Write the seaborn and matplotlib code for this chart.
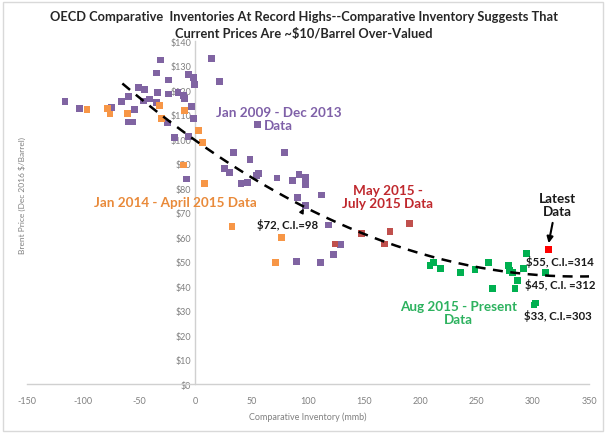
import numpy as np
import pandas as pd
import matplotlib
matplotlib.use("Agg")
import matplotlib.pyplot as plt
import seaborn as sns
from matplotlib.patches import Rectangle

# values
purple_x = [-116, -103, -74.5, -66, -59.5, -54.5, -60, -56, -51, -45, -46.5, -41, -35, -34,
            -34.5, -31, -24, -24, -25, -15.5, -11, -10, -6.5, -1.5, -1, -3.5, -1.5, -19, -6.5,
            -8, 14, 21.5, 55.5, 33.5, 48.5, 79, 26, 30, 54.5, 56, 40.5, 46, 72.5, 86, 92,
            97.5, 97.5, 90.5, 112, 97.5, 118, 122.5, 89.5, 111.5, 129]
purple_y = [115.3, 112.4, 113, 115.5, 117.4, 112, 107, 107, 121.2, 120.2, 115.6, 116.4, 115, 119,
            127, 132.3, 124.2, 118.5, 106.6, 119.1, 117.8, 116.7, 126.3, 125.3, 122.4, 113.4, 108.5,
            100.8, 101.2, 83.8, 133, 123.6, 106, 94.5, 91.8, 94.5, 88, 86.4, 85.2, 86, 81.8, 82.5,
            84.2, 83.3, 85.6, 84.5, 81.4, 76.3, 77.3, 72.9, 65, 53, 50, 49.6, 57]

orange_x = [-96.5, -78.5, -76, -60.5, -32, -30, -10, -11, 2.5, 6.5, 8, 32.5, 76.5, 71.5]
orange_y = [112, 112.4, 110.3, 110.6, 113.7, 108.6, 111.7, 89.5, 103.5, 98.8, 81.8, 64.4, 60, 49.6]

red_x = [124, 147.5, 168, 173, 190]
red_y = [57.3, 61.4, 57.3, 62.5, 65.5]

green_x = [208.5, 211.5, 217.5, 235.5, 248.5, 260.5, 264, 278, 279.5, 282, 284, 286.5, 291.5,
           294.5, 311.5, 301, 302.5]
green_y = [48.5, 49.6, 47.4, 45.5, 46.8, 49.8, 39.2, 48.5, 46.4, 45.5, 39.2, 42.3, 47.4,
           53.5, 45.5, 32.4, 33.2]

latest_x = [314]
latest_y = [55]

# dashed trend line (2nd order polynomial, Excel style)
trend_coef = [0.00048, -0.3264, 99.5]
trend_range = [-65, 356]

y_ticks = list(range(0, 141, 10))
y_labels = ["$" + str(v) for v in y_ticks]
x_ticks = list(range(-150, 351, 50))

colors = {"Jan 2009 - Dec 2013": "#8064A2",
          "Jan 2014 - April 2015": "#F79646",
          "May 2015 - July 2015": "#C0504D",
          "Aug 2015 - Present": "#00B050",
          "Latest": "#FF0000"}

parts = [("Jan 2009 - Dec 2013", purple_x, purple_y),
         ("Jan 2014 - April 2015", orange_x, orange_y),
         ("May 2015 - July 2015", red_x, red_y),
         ("Aug 2015 - Present", green_x, green_y),
         ("Latest", latest_x, latest_y)]
df = pd.concat([pd.DataFrame({"inv": xs, "price": ys, "period": name}) for name, xs, ys in parts],
               ignore_index=True)

sns.set_style("white")
plt.rcParams['font.family'] = ['Lato', 'DejaVu Sans']

fig = plt.figure(figsize=(6.08, 4.35), dpi=100)
ax = fig.add_axes([0.044, 0.114, 0.925, 0.789])

sns.scatterplot(data=df, x="inv", y="price", hue="period", palette=colors, marker="s",
                s=24, linewidth=0, legend=False, ax=ax, zorder=3)

tx = np.linspace(trend_range[0], trend_range[1], 200)
ax.plot(tx, np.polyval(trend_coef, tx), color="black", lw=1.8, ls=(0, (4, 3)), zorder=4)

ax.set_xlim(-150, 350)
ax.set_ylim(0, 140)
ax.set_xticks(x_ticks)
ax.set_xticklabels([str(v) for v in x_ticks])
ax.set_yticks(y_ticks)
ax.set_yticklabels(y_labels)
ax.tick_params(axis="both", length=0, labelsize=6.5, labelcolor="#808080")
ax.tick_params(axis="x", pad=8)
ax.tick_params(axis="y", pad=3)

ax.spines["left"].set_position(("data", 0))
for side in ["top", "right"]:
    ax.spines[side].set_visible(False)
for side in ["left", "bottom"]:
    ax.spines[side].set_color("#D0D0D0")
    ax.spines[side].set_linewidth(1)

ax.set_xlabel("Comparative Inventory (mmb)", fontsize=6.5, color="#808080", labelpad=5)
ax.set_ylabel("")
fig.text(0.036, 0.55, "Brent Price (Dec 2016 $/Barrel)", rotation=90, fontsize=6,
         color="#808080", ha="center", va="center")

fig.text(0.5, 0.962, "OECD Comparative  Inventories At Record Highs--Comparative Inventory Suggests That",
         ha="center", va="center", fontsize=9.3, fontweight="bold", color="#262626")
fig.text(0.5, 0.922, "Current Prices Are ~$10/Barrel Over-Valued",
         ha="center", va="center", fontsize=9.3, fontweight="bold", color="#262626")

bold = dict(fontweight="bold", fontsize=9.7, ha="center", va="center", linespacing=1.15)
ax.text(74, 108.5, "Jan 2009 - Dec 2013\nData", color="#7F60A8", **bold)
ax.text(-18, 74.5, "Jan 2014 - April 2015 Data", color="#E98A3A", **bold)
ax.text(171, 76.7, "May 2015 -\nJuly 2015 Data", color="#C0282D", **bold)
ax.text(234, 29.4, "Aug 2015 - Present\nData", color="#2DB25F", **bold)
ax.text(321.5, 73.4, "Latest\nData", color="#1a1a1a", **bold)

lab = dict(fontweight="bold", fontsize=8.2, color="#1a1a1a", va="center")
ax.text(293.5, 50.5, "$55, C.I.=314", ha="left", **lab)
ax.text(293, 41, "$45, C.I. =312", ha="left", **lab)
ax.text(292, 28.5, "$33, C.I.=303", ha="left", **lab)
ax.text(82, 65.5, "$72, C.I.=98", ha="center", **lab)

ax.annotate("", xy=(313.5, 56.5), xytext=(318, 67),
            arrowprops=dict(arrowstyle="-|>", color="black", lw=1.5, mutation_scale=9))
ax.annotate("", xy=(97.5, 72.8), xytext=(93.5, 69.3),
            arrowprops=dict(arrowstyle="-|>", color="black", lw=1.2, mutation_scale=6))

# light frame round the whole chart
fig.patches.append(Rectangle((0.005, 0.008), 0.986, 0.984, transform=fig.transFigure,
                             fill=False, edgecolor="#D9D9D9", lw=1))

fig.savefig("out.png", dpi=100)
